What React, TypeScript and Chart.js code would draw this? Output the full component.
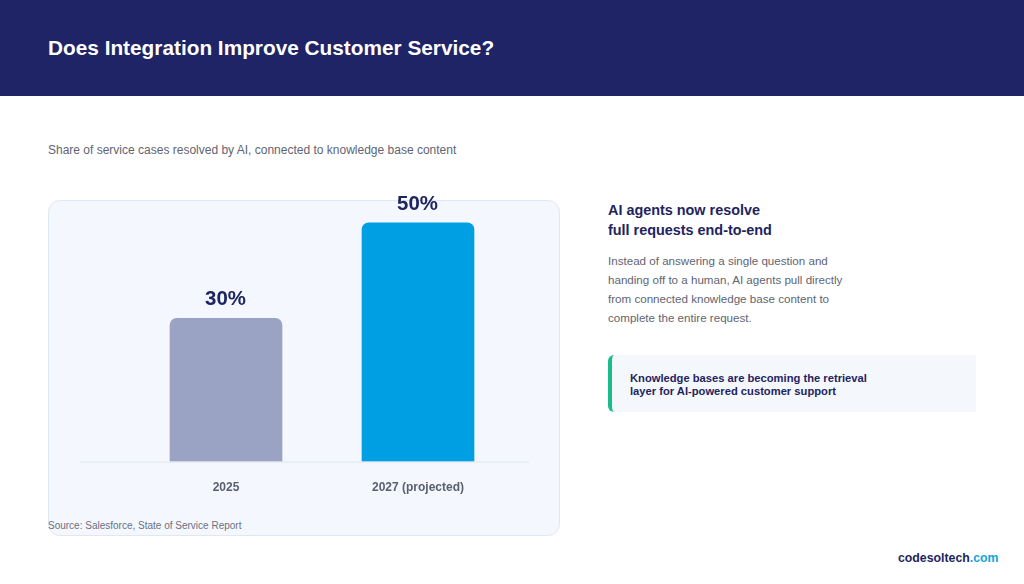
import { useEffect, useRef } from "react";
import { Chart, registerables } from "chart.js";

Chart.register(...registerables);

const categories = ["2025", "2027 (projected)"];
const shareResolved = [30, 50];
const barColors = ["#9aa3c4", "#009fe3"];
const FONT = '"Liberation Sans", Arial, sans-serif';

// value labels above the bars + baseline wider than the plot area
const barExtras = {
  id: "barExtras",
  afterDatasetsDraw(chart: any) {
    const { ctx, chartArea } = chart;
    ctx.save();
    ctx.strokeStyle = "#dfe4ee";
    ctx.lineWidth = 1;
    ctx.beginPath();
    ctx.moveTo(chartArea.left - 50, chartArea.bottom + 0.5);
    ctx.lineTo(chartArea.right + 15, chartArea.bottom + 0.5);
    ctx.stroke();
    ctx.fillStyle = "#1e2460";
    ctx.font = `bold 20.4px ${FONT}`;
    ctx.textAlign = "center";
    chart.getDatasetMeta(0).data.forEach((bar: any, i: number) => {
      ctx.fillText(`${shareResolved[i]}%`, bar.x - 0.5, bar.y - 13);
    });
    ctx.restore();
  },
};

function BarChart() {
  const ref = useRef<HTMLCanvasElement | null>(null);
  useEffect(() => {
    if (!ref.current) return;
    const ch = new Chart(ref.current, {
      type: "bar",
      data: {
        labels: categories,
        datasets: [
          {
            data: shareResolved,
            backgroundColor: barColors,
            barThickness: 112,
            borderRadius: { topLeft: 7, topRight: 7, bottomLeft: 0, bottomRight: 0 },
            borderSkipped: false,
          },
        ],
      },
      options: {
        animation: false,
        responsive: false,
        layout: { padding: { left: 82, right: 46, top: 18, bottom: 6 } },
        plugins: { legend: { display: false }, tooltip: { enabled: false } },
        scales: {
          x: {
            grid: { display: false },
            border: { display: false },
            ticks: {
              padding: 11,
              color: "#5a5f6e",
              font: { family: FONT, size: 12, weight: "bold" },
            },
          },
          y: { display: false, min: 0, max: 55 },
        },
      },
      plugins: [barExtras],
    });
    return () => ch.destroy();
  }, []);
  return (
    <canvas
      ref={ref}
      width={512}
      height={331}
      style={{ position: "absolute", left: 48, top: 181, width: 512, height: 331 }}
    />
  );
}

const abs = (left: number, top: number, extra: any = {}) => ({
  position: "absolute" as const,
  left,
  top,
  whiteSpace: "nowrap" as const,
  ...extra,
});

export default function App() {
  return (
    <div style={{ position: "fixed", inset: 0, width: 1024, height: 584, background: "#fff", overflow: "hidden", fontFamily: FONT }}>
      <div style={{ position: "absolute", left: 0, top: 0, width: 1024, height: 96, background: "#1e2466" }} />
      <div style={abs(48, 36, { color: "#fff", fontSize: 20.8, lineHeight: "24px", fontWeight: 700 })}>
        Does Integration Improve Customer Service?
      </div>
      <div style={abs(48, 141, { color: "#5f6472", fontSize: 12, lineHeight: "18px" })}>
        Share of service cases resolved by AI, connected to knowledge base content
      </div>

      <div
        style={{
          position: "absolute",
          left: 48,
          top: 200,
          width: 510,
          height: 334,
          background: "#f4f8fe",
          border: "1px solid #dfe7f3",
          borderRadius: 12,
        }}
      />
      <BarChart />
      <div style={abs(48, 519, { color: "#6b7080", fontSize: 10, lineHeight: "14px" })}>
        Source: Salesforce, State of Service Report
      </div>

      <div style={abs(608, 199.5, { color: "#1e2460", fontSize: 14.4, lineHeight: "20px", fontWeight: 700 })}>
        AI agents now resolve
        <br />
        full requests end-to-end
      </div>
      <div style={abs(608, 251, { color: "#5f6472", fontSize: 11.6, lineHeight: "19px" })}>
        Instead of answering a single question and
        <br />
        handing off to a human, AI agents pull directly
        <br />
        from connected knowledge base content to
        <br />
        complete the entire request.
      </div>

      <div
        style={{
          position: "absolute",
          left: 608,
          top: 355,
          width: 368,
          height: 57,
          boxSizing: "border-box",
          background: "#f4f8fc",
          borderLeft: "4px solid #1abc8c",
          borderRadius: "6px 0 0 6px",
        }}
      />
      <div style={abs(630, 372, { color: "#1e2460", fontSize: 11.2, lineHeight: "13px", fontWeight: 700 })}>
        Knowledge bases are becoming the retrieval
        <br />
        layer for AI-powered customer support
      </div>

      <div style={abs(898, 550, { color: "#1e2460", fontSize: 12.3, lineHeight: "16px", fontWeight: 700 })}>
        codesoltech<span style={{ color: "#0ea5d9" }}>.com</span>
      </div>
    </div>
  );
}
